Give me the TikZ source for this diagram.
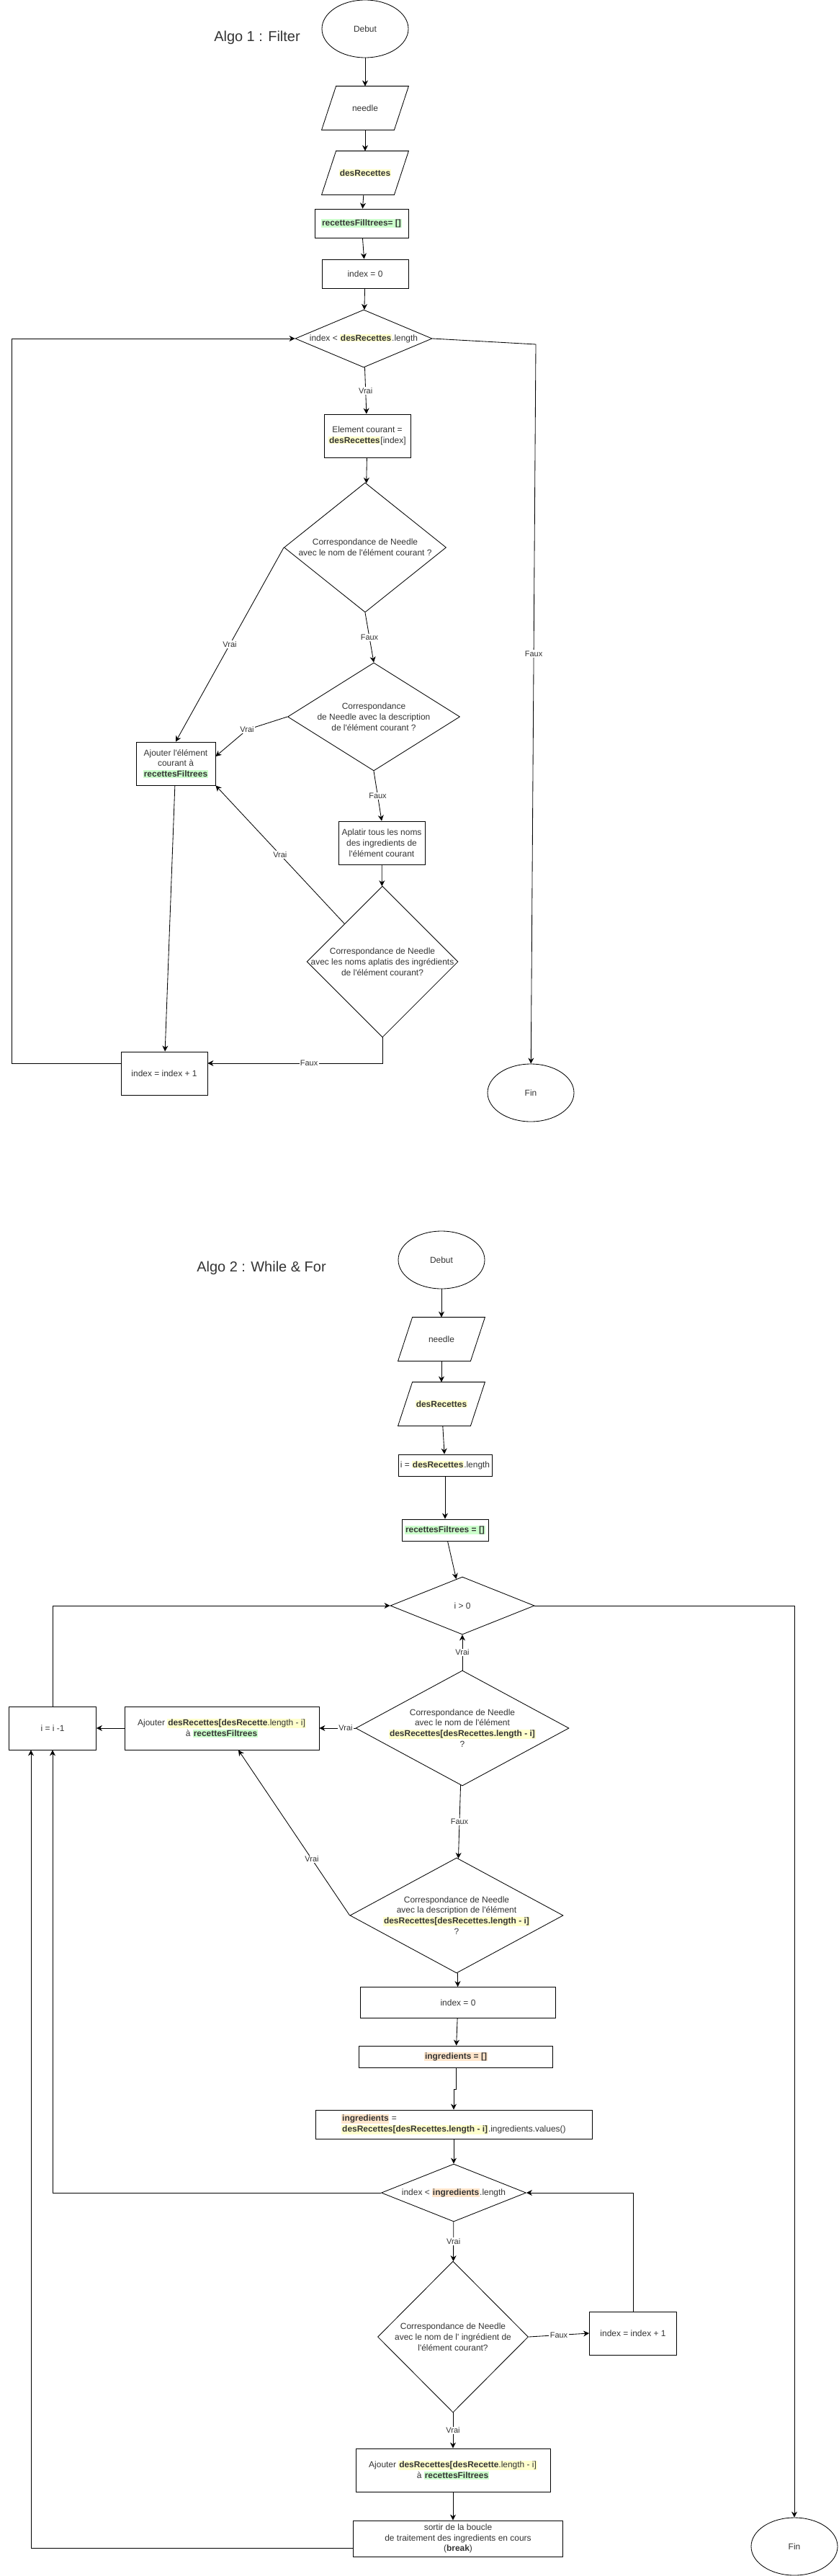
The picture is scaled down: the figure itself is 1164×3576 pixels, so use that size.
\documentclass[tikz,border=0pt]{standalone}
\usepackage{fontspec}
\setmainfont{Liberation Sans}[Ligatures=TeXOff]
\usetikzlibrary{shapes.geometric,arrows.meta}

\newlength{\px}
\setlength{\px}{0.025cm}
\definecolor{gristexte}{HTML}{333333}
\definecolor{fondjaune}{HTML}{FFFFCC}
\definecolor{fondvert}{HTML}{CCFFCC}
\definecolor{fondpeche}{HTML}{FFE6CC}
\newcommand{\hljaune}[1]{{\setlength{\fboxsep}{0.6pt}\colorbox{fondjaune}{#1}}}
\newcommand{\hlvert}[1]{{\setlength{\fboxsep}{0.6pt}\colorbox{fondvert}{#1}}}
\newcommand{\hlpeche}[1]{{\setlength{\fboxsep}{0.6pt}\colorbox{fondpeche}{#1}}}

\tikzset{
  base/.style={draw=black, line width=0.6pt, text=gristexte, font=\fontsize{8.5}{10.5}\selectfont, align=center, inner sep=1pt},
  boite/.style={base, rectangle},
  donnee/.style={base, draw=none, rectangle, minimum width=120\px, minimum height=60\px,
    append after command={\pgfextra{\draw[line width=0.6pt] ([xshift=20\px]\tikzlastnode.north west) -- (\tikzlastnode.north east) -- ([xshift=-20\px]\tikzlastnode.south east) -- (\tikzlastnode.south west) -- cycle;}}},
  terminal/.style={base, ellipse, inner sep=0pt, minimum width=120\px, minimum height=80\px},
  choix/.style={base, diamond, inner sep=0pt},
  choixtexte/.style={text=gristexte, font=\fontsize{8.5}{10.5}\selectfont, align=center, inner sep=0pt},
  etiq/.style={fill=white, inner sep=1pt, text=gristexte, font=\fontsize{7.8}{9}\selectfont},
  fleche/.style={line width=0.6pt, -{Stealth[length=2mm, width=2mm]}},
  titre/.style={text=gristexte, font=\fontsize{14.2}{17}\selectfont},
}

\begin{document}
\begin{tikzpicture}[x=0.025cm, y=-0.025cm]
	\useasboundingbox (0,0) rectangle (1164,3576);
	% Algo 1 : Filter
	\node[titre] (titre1) at (357,52) {Algo 1 : Filter};
	\node[terminal] (debut1) at (507,40) {Debut};
	\node[donnee] (needle1) at (507,150) {needle};
	\node[donnee] (recettes1) at (507,240) {\hljaune{\textbf{desRecettes}}};
	\node[boite, minimum width=130\px, minimum height=40\px] (filtrees1) at (502,310) {\hlvert{\textbf{recettesFilltrees= []}}};
	\node[boite, minimum width=120\px, minimum height=40\px] (index1) at (507,380) {index = 0};
	\node[choix, minimum width=190\px, minimum height=80\px, label={[choixtexte]center:{index < \hljaune{\textbf{desRecettes}}.length}}] (boucle1) at (505,470) {};
	\node[boite, minimum width=120\px, minimum height=60\px] (courant1) at (510,605) {Element courant =\\ \hljaune{\textbf{desRecettes}}[index]};
	\node[choix, minimum width=225\px, minimum height=180\px, label={[choixtexte]center:{Correspondance de Needle\\ avec le nom de l'élément courant ?}}] (nom1) at (507,760) {};
	\node[choix, minimum width=239\px, minimum height=150\px, label={[choixtexte]center:{Correspondance\\ de Needle avec la description\\ de l'élément courant ?}}] (desc1) at (519,995) {};
	\node[boite, minimum width=110\px, minimum height=60\px] (ajout1) at (244,1060) {Ajouter l'élément\\ courant à\\ \hlvert{\textbf{recettesFiltrees}}};
	\node[boite, minimum width=120\px, minimum height=60\px] (aplatir1) at (530,1170) {Aplatir tous les noms\\ des ingredients de\\ l'élément courant};
	\node[choix, minimum width=210\px, minimum height=210\px, label={[choixtexte]center:{Correspondance de Needle\\ avec les noms aplatis des ingrédients\\ de l'élément courant?}}] (ingr1) at (531,1335) {};
	\node[boite, minimum width=120\px, minimum height=60\px] (incr1) at (228,1490) {index = index + 1};
	\node[terminal] (fin1) at (737,1517) {Fin};
	\coordinate (coude1) at (343,1013);
	\coordinate (retour1) at (16,1476);
	\coordinate (sortie1) at (744,478);
	% fleches algo 1
	\draw[fleche] (debut1) -- (needle1);
	\draw[fleche] (needle1) -- (recettes1);
	\draw[fleche] (recettes1) -- (filtrees1);
	\draw[fleche] (filtrees1) -- (index1);
	\draw[fleche] (index1) -- (boucle1);
	\draw[fleche] (boucle1) -- node[etiq] {Vrai} (courant1);
	\draw[fleche] (courant1) -- (nom1);
	\draw[fleche] (nom1.west) -- node[etiq] {Vrai} (ajout1.north);
	\draw[fleche] (nom1.south) -- node[etiq] {Faux} (desc1.north);
	\draw[fleche] (desc1.west) -- node[etiq, pos=1] {Vrai} (coude1) -- ([yshift=10\px]ajout1.east);
	\draw[fleche] (desc1.south) -- node[etiq] {Faux} (aplatir1.north);
	\draw[fleche] (aplatir1) -- (ingr1);
	\draw[fleche] (ingr1.north west) -- node[etiq] {Vrai} (ajout1.south east);
	\draw[fleche] (ingr1.south) |- node[etiq, pos=0.71] {Faux} ([yshift=14\px]incr1.east);
	\draw[fleche] (ajout1) -- (incr1);
	\draw[fleche] ([yshift=14\px]incr1.west) -- (retour1) |- (boucle1.west);
	\draw[fleche] (boucle1.east) -- (sortie1) -- node[etiq, pos=0.43] {Faux} (fin1);
	% Algo 2 : While & For
	\node[titre] (titre2) at (363,1760) {Algo 2 : While \& For};
	\node[terminal] (debut2) at (613,1749) {Debut};
	\node[donnee] (needle2) at (613,1859) {needle};
	\node[donnee] (recettes2) at (613,1949) {\hljaune{\textbf{desRecettes}}};
	\node[boite, minimum width=130\px, minimum height=30\px] (longueur2) at (618,2034) {i = \hljaune{\textbf{desRecettes}}.length};
	\node[boite, minimum width=120\px, minimum height=30\px] (filtrees2) at (618,2124) {\hlvert{\textbf{recettesFiltrees = []}}};
	\node[choix, minimum width=200\px, minimum height=80\px, label={[choixtexte]center:{i > 0}}] (boucle2) at (642,2229) {};
	\node[choix, minimum width=296\px, minimum height=160\px, label={[choixtexte]center:{Correspondance de Needle\\ avec le nom de l'élément\\ \hljaune{\textbf{desRecettes[desRecettes.length - i]}}\\ ?}}] (nom2) at (642,2399) {};
	\node[boite, minimum width=270\px, minimum height=60\px] (ajout2) at (308,2399) {Ajouter \hljaune{\textbf{desRecettes[desRecette}.length - i]}\\ à \hlvert{\textbf{recettesFiltrees}}};
	\node[boite, minimum width=121\px, minimum height=60\px] (decr2) at (73,2399) {i = i -1};
	\node[choix, minimum width=296\px, minimum height=160\px, label={[choixtexte]center:{Correspondance de Needle\\ avec la description de l'élément\\ \hljaune{\textbf{desRecettes[desRecettes.length - i]}}\\ ?}}] (desc2) at (634,2659) {};
	\node[boite, minimum width=271\px, minimum height=43\px] (index2) at (636,2780) {index = 0};
	\node[boite, minimum width=269\px, minimum height=30\px] (ingr2) at (633,2855) {\hlpeche{\textbf{ingredients = []}}};
	\node[boite, minimum width=384\px, minimum height=40\px, align=left] (valeurs2) at (630,2949) {\hlpeche{\textbf{ingredients}} =\\ \hljaune{\textbf{desRecettes[desRecettes.length - i]}}.ingredients.values()};
	\node[choix, minimum width=201\px, minimum height=80\px, label={[choixtexte]center:{index < \hlpeche{\textbf{ingredients}}.length}}] (boucleingr2) at (630,3044) {};
	\node[choix, minimum width=209\px, minimum height=210\px, label={[choixtexte]center:{Correspondance de Needle\\ avec le nom de l' ingrédient de\\ l'élément courant?}}] (nomingr2) at (629,3244) {};
	\node[boite, minimum width=121\px, minimum height=60\px] (incr2) at (879,3239) {index = index + 1};
	\node[boite, minimum width=270\px, minimum height=60\px] (ajoutb2) at (629,3429) {Ajouter \hljaune{\textbf{desRecettes[desRecette}.length - i]}\\ à \hlvert{\textbf{recettesFiltrees}}};
	\node[boite, minimum width=291\px, minimum height=50\px] (sortir2) at (636,3524) {sortir de la boucle\\ de traitement des ingredients en cours\\ (\textbf{break})};
	\node[terminal] (fin2) at (1103,3535) {Fin};
	% fleches algo 2
	\draw[fleche] (debut2) -- (needle2);
	\draw[fleche] (needle2) -- (recettes2);
	\draw[fleche] (recettes2) -- (longueur2);
	\draw[fleche] (longueur2) -- (filtrees2);
	\draw[fleche] (filtrees2) -- (boucle2);
	\draw[fleche] (nom2) -- node[etiq] {Vrai} (boucle2);
	\draw[fleche] (boucle2.east) -| (fin2.north);
	\draw[fleche] (nom2.west) -- node[etiq, pos=0.27] {Vrai} (ajout2.east);
	\draw[fleche] (ajout2) -- (decr2);
	\draw[fleche] (decr2.north) |- (boucle2.west);
	\draw[fleche] (nom2) -- node[etiq] {Faux} (desc2);
	\draw[fleche] (desc2.west) -- node[etiq, pos=0.34] {Vrai} ([xshift=23\px]ajout2.south);
	\draw[fleche] (desc2) -- (index2);
	\draw[fleche] (index2) -- (ingr2);
	\draw[fleche] (ingr2.south) -- ++(0,30) -| (valeurs2.north);
	\draw[fleche] (valeurs2) -- (boucleingr2);
	\draw[fleche] (boucleingr2.west) -| (decr2.south);
	\draw[fleche] (boucleingr2) -- node[etiq] {Vrai} (nomingr2);
	\draw[fleche] (nomingr2.east) -- node[etiq] {Faux} (incr2.west);
	\draw[fleche] (incr2.north) |- (boucleingr2.east);
	\draw[fleche] (nomingr2) -- node[etiq] {Vrai} (ajoutb2);
	\draw[fleche] (ajoutb2.south) -- (ajoutb2.south |- sortir2.north);
	\draw[fleche] ([yshift=-13\px]sortir2.west) -| ([xshift=-30\px]decr2.south);
\end{tikzpicture}
\end{document}
